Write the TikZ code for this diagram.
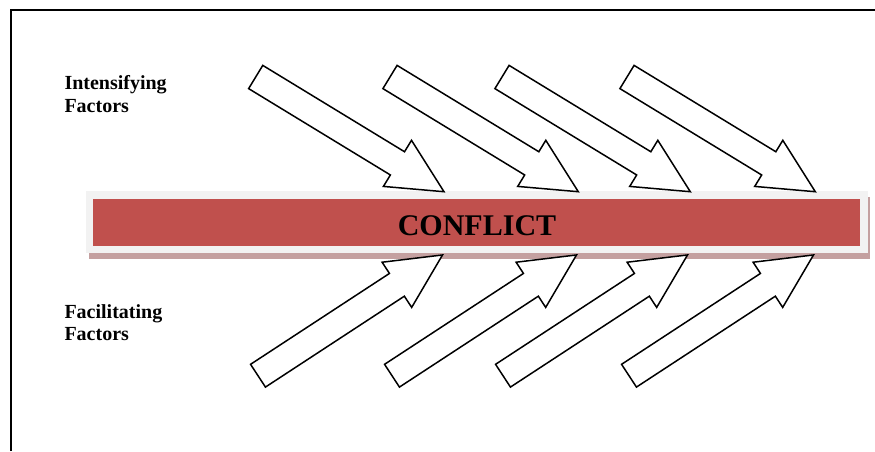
\documentclass[tikz,border=0pt]{standalone}
\usepackage{fontspec}
\setmainfont{Liberation Serif}
\definecolor{barred}{HTML}{C0504D}
\definecolor{barframe}{HTML}{F2F2F2}
\definecolor{barshadow}{RGB}{196,160,160}

\begin{document}
\begin{tikzpicture}[x=1pt,y=1pt,line join=miter]
	\tikzset{factor/.style={draw=black,line width=1.5pt,fill=white},
		sidelabel/.style={font=\bfseries\fontsize{20}{22.4}\selectfont,align=left,anchor=north west,inner sep=0pt}}
	\useasboundingbox (0,0) rectangle (875,451);
	% frame
	\draw[line width=2pt] (11,0)--(11,441)--(875,441);
	% the bar
	\fill[barshadow] (88.5,192.3) rectangle (870.2,254);
	\fill[barframe] (86,198.3) rectangle (867.7,260);
	\fill[barred] (93.3,205.3) rectangle (860.3,252);
	\node[font=\bfseries\fontsize{30}{36}\selectfont,anchor=base,inner sep=0pt] (conflict) at (477,216) {CONFLICT};
	% intensifying arrows
	\foreach \x in {255.7,390,502,627}
		\draw[factor,shift={(\x,374)},rotate=-31.35] (0,13.6)--(166,13.6)--(166,27)--(220.5,0)--(166,-27)--(166,-13.6)--(0,-13.6)--cycle;
	% facilitating arrows
	\foreach \x in {258,392,503,629}
		\draw[factor,shift={(\x,75.3)},rotate=33.2] (0,13.6)--(166,13.6)--(166,27)--(220.5,0)--(166,-27)--(166,-13.6)--(0,-13.6)--cycle;
	\path
	(64.3,375.4) node[sidelabel] (intens) {Intensifying\\Factors}
	(64.3,147) node[sidelabel] (facil) {Facilitating\\Factors}
	;
\end{tikzpicture}
\end{document}
